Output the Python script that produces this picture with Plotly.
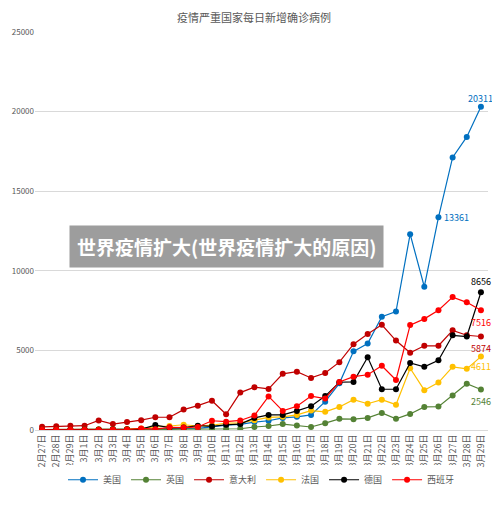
import plotly.graph_objects as go

dates = ["2月27日","2月28日","2月29日"] + [f"3月{d}日" for d in range(1, 30)]
us = [0,5,10,10,20,20,30,30,50,100,100,100,200,300,350,500,580,760,830,950,1780,2930,4940,5430,7110,7440,12300,9000,13361,17120,18410,20311]
uk = [0,0,0,5,5,10,10,20,30,40,50,50,50,60,80,190,250,370,290,190,430,700,680,760,1070,700,1010,1450,1470,2170,2910,2546]
it = [200,230,270,270,600,370,500,620,800,800,1280,1530,1840,990,2350,2690,2580,3530,3660,3270,3580,4260,5390,6030,6610,5620,4850,5290,5290,6260,5950,5874]
fr = [20,20,20,30,40,50,60,100,200,250,330,250,300,430,450,620,790,830,950,1220,1140,1450,1900,1650,1900,1590,3880,2500,2980,3970,3840,4611]
de = [20,20,20,30,30,40,50,60,310,150,150,270,230,330,370,760,950,950,1200,1490,2130,3000,3020,4570,2560,2560,4210,3970,4380,5950,5870,8656]
es = [10,10,10,20,20,30,30,100,50,170,150,190,580,520,600,910,2110,1200,1490,2130,1980,3020,3350,3470,4030,3140,6590,6980,7520,8350,8020,7516]

series = [("美国", us, "#0070C0"), ("英国", uk, "#548235"), ("意大利", it, "#C00000"),
          ("法国", fr, "#FFC000"), ("德国", de, "#000000"), ("西班牙", es, "#FF0000")]
label_shift = {"美国": 8, "英国": -12, "意大利": -12, "法国": -10, "德国": 11, "西班牙": -12}
idx = list(range(len(dates)))
last = idx[-1]

fig = go.Figure()
for name, vals, col in series:
    fig.add_trace(go.Scatter(x=idx, y=vals, name=name, mode="lines+markers",
                             line=dict(color=col, width=1.2), marker=dict(color=col, size=6)))
    fig.add_annotation(x=last, y=vals[-1], text=str(vals[-1]), showarrow=False,
                       yshift=label_shift[name], font=dict(color=col, size=9), xanchor="center")
fig.add_annotation(x=28, y=us[28], text="13361", showarrow=False, xshift=18,
                   font=dict(color="#0070C0", size=9))

fig.add_annotation(xref="paper", yref="paper", x=0.074, y=0.46, text="<b>世界疫情扩大(世界疫情扩大的原因)</b>",
                   showarrow=False, xanchor="left", yanchor="middle", bgcolor="rgba(140,140,140,0.85)",
                   font=dict(color="white", size=19, family="Noto Sans CJK SC"), borderpad=7)

fig.update_layout(
    width=492, height=498, paper_bgcolor="white", plot_bgcolor="white",
    margin=dict(l=27, r=12, t=24, b=58),
    title=dict(text="疫情严重国家每日新增确诊病例", x=0.5, y=0.988, font=dict(size=11, color="#595959")),
    font=dict(family="Noto Sans CJK SC", color="#595959", size=9),
    showlegend=True,
    legend=dict(orientation="h", x=0.5, xanchor="center", y=-0.125, yanchor="middle", font=dict(size=9)),
    xaxis=dict(tickangle=-90, showgrid=False, showline=True, linecolor="#d9d9d9", range=[-0.5, 31.5],
               tickmode="array", tickvals=idx, ticktext=dates,
               tickfont=dict(size=9), automargin=False, zeroline=False),
    yaxis=dict(range=[0, 25000], dtick=5000, tickformat="d", gridcolor="#d9d9d9", zeroline=False,
               tickfont=dict(size=8), automargin=False),
)
fig.write_html("out.html")
